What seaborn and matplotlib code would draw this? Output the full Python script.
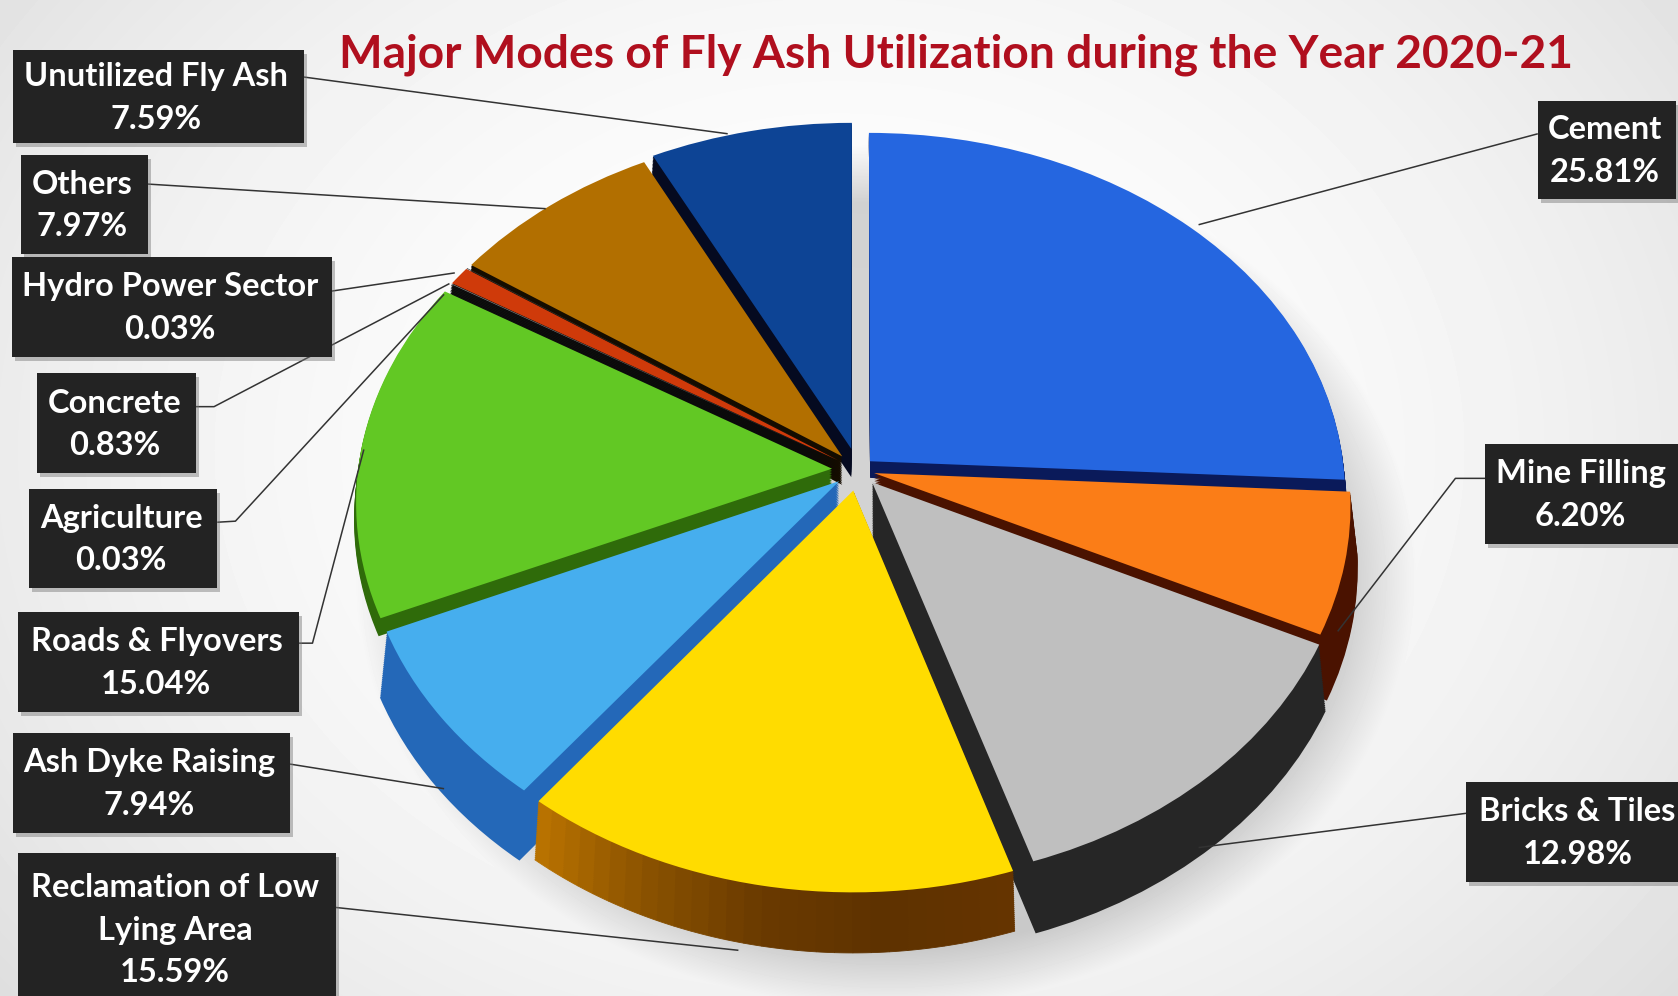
import numpy as np
import matplotlib
matplotlib.use("Agg")
import matplotlib.pyplot as plt
from matplotlib.patches import Rectangle, Wedge
from matplotlib.transforms import Transform
import seaborn as sns

# ---- data ----
categories = ["Cement", "Mine Filling", "Bricks & Tiles", "Reclamation of Low\nLying Area",
              "Ash Dyke Raising", "Roads & Flyovers", "Agriculture", "Concrete",
              "Hydro Power Sector", "Others", "Unutilized Fly Ash"]
shares = [25.81, 6.20, 12.98, 15.59, 7.94, 15.04, 0.03, 0.83, 0.03, 7.97, 7.59]
title = "Major Modes of Fly Ash Utilization during the Year 2020-21"

# ---- styles ----
top_colors = ["#2566e0", "#fb7d17", "#bfbfbf", "#ffdc00", "#46aeee", "#62c824",
              "#888888", "#cf3a0a", "#333333", "#b26f00", "#0d4495"]
side_colors = ["#0a1a5a", "#4a1200", "#262626", "#6a3800", "#2468b8", "#2f6b0a",
               "#111111", "#0a0a0a", "#111111", "#140c00", "#050a20"]
explode = [0.035, 0.035, 0.045, 0.057, 0.05, 0.055, 0.05, 0.05, 0.05, 0.05, 0.06]
draw_rank = [3, 4, 7, 9, 8, 6, 5, 5, 5, 2, 1]
depths = [0.05, 0.165, 0.165, 0.14, 0.165, 0.05, 0.05, 0.05, 0.05, 0.08, 0.08]

sns.set_theme(style="white")
plt.rcParams["font.family"] = ["Lato", "DejaVu Sans"]

W, H = 1678, 996
CX, CY, RX = 858, 470, 474
fig = plt.figure(figsize=(W / 100, H / 100), dpi=100)


class Perspective(Transform):
    """Narrows the far side of the pie and widens the near side."""
    input_dims = output_dims = 2
    is_separable = False
    has_inverse = False
    k = 0.09

    def transform_non_affine(self, values):
        v = np.array(values, dtype=float)
        v[:, 0] = v[:, 0] * (1 - self.k * v[:, 1])
        return v


# background with soft shadow
bg = fig.add_axes([0, 0, 1, 1], zorder=0)
yy, xx = np.mgrid[0:H, 0:W]
rad = np.hypot((xx - 839) / 1000, (yy - 450) / 800)
base = 1.0 - 0.11 * np.clip(rad, 0, 1.2) ** 2
sh = np.hypot((xx - 885) / 510, (yy - 575) / 415)
shadow = np.clip((1.04 - sh) / 0.14, 0, 1)
img = base - 0.17 * shadow
bg.imshow(img, cmap="gray", vmin=0, vmax=1, extent=(0, W, H, 0), aspect="auto", interpolation="bilinear")
bg.axis("off")

# pie with perspective on the vertical axis
ax = fig.add_axes([0, 0, 1, 1], zorder=1)
ax.patch.set_alpha(0)
A, B = 364.0, -34.0
def fwd(y):
    return A * np.asarray(y) + B * np.asarray(y) ** 2
def inv(u):
    return (A - np.sqrt(np.maximum(A ** 2 + 4 * B * np.asarray(u), 0))) / (-2 * B)

persp = Perspective() + ax.transData
LAYERS = 36
DEPTH = max(depths)
grad = sns.blend_palette(["#b87200", "#8a5200", "#6a3a00", "#5e3200", "#653400"][::-1], 28)
for k in range(LAYERS, 0, -1):
    d = DEPTH * k / LAYERS
    wedges, _ = ax.pie(shares, explode=explode, colors=side_colors, startangle=90,
                       counterclock=False, center=(0, -d), radius=1,
                       wedgeprops=dict(linewidth=0))
    for w, r, dep in zip(wedges, draw_rank, depths):
        w.set_zorder(r + 1)
        w.set_transform(persp)
        if d > dep:
            w.set_visible(False)
    y = wedges[3]
    y.set_visible(False)
    if d <= depths[3]:
        edges = np.linspace(y.theta1, y.theta2, len(grad) + 1)
        for i, c in enumerate(grad[::-1]):
            ax.add_patch(Wedge(y.center, y.r, edges[i], edges[i + 1], facecolor=c,
                               edgecolor=c, linewidth=0.6, zorder=draw_rank[3] + 1,
                               transform=persp))
wedges, _ = ax.pie(shares, explode=explode, colors=top_colors, startangle=90,
                   counterclock=False, center=(0, 0), radius=1, wedgeprops=dict(linewidth=0))
for w in wedges:
    w.set_zorder(20)
    w.set_transform(persp)

ax.set_aspect("auto")
ax.set_xlim((0 - CX) / RX, (W - CX) / RX)
ax.set_yscale("function", functions=(fwd, inv))
ax.set_ylim(inv(CY - H), inv(CY))
ax.set_xticks([])
ax.set_yticks([])
ax.set_frame_on(False)

# overlay in pixel units for callouts
ov = fig.add_axes([0, 0, 1, 1], zorder=2)
ov.set_xlim(0, W)
ov.set_ylim(H, 0)
ov.axis("off")
ov.patch.set_alpha(0)

S = 1678 / 1568
boxes = {
    "Unutilized Fly Ash": (12, 47, 284, 134),
    "Others": (20, 145, 138, 237),
    "Hydro Power Sector": (11, 240, 310, 334),
    "Concrete": (35, 349, 183, 442),
    "Agriculture": (27, 457, 203, 549),
    "Roads & Flyovers": (17, 572, 279, 665),
    "Ash Dyke Raising": (12, 685, 271, 778),
    "Reclamation of Low\nLying Area": (17, 797, 314, 940),
    "Cement": (1437, 94, 1566, 186),
    "Mine Filling": (1388, 415, 1570, 508),
    "Bricks & Tiles": (1370, 731, 1582, 824),
}
leaders = {
    "Unutilized Fly Ash": [(284, 72), (680, 125)],
    "Others": [(138, 172), (510, 195)],
    "Hydro Power Sector": [(310, 272), (425, 255)],
    "Concrete": [(183, 380), (200, 380), (420, 265)],
    "Agriculture": [(203, 488), (220, 487), (415, 275)],
    "Roads & Flyovers": [(279, 601), (292, 601), (340, 420)],
    "Ash Dyke Raising": [(271, 714), (415, 737)],
    "Reclamation of Low\nLying Area": [(314, 848), (690, 888)],
    "Cement": [(1437, 125), (1120, 210)],
    "Mine Filling": [(1388, 447), (1360, 447), (1250, 590)],
    "Bricks & Tiles": [(1370, 760), (1120, 792)],
}
for name in categories:
    pts = np.array(leaders[name]) * S
    ov.plot(pts[:, 0], pts[:, 1], color="#333333", lw=1.1, zorder=1, solid_capstyle="butt")
for name, pct in zip(categories, shares):
    x0, y0, x1, y1 = np.array(boxes[name]) * S
    ov.add_patch(Rectangle((x0 + 3, y0 + 4), x1 - x0, y1 - y0, fc="#777777", alpha=0.45, lw=0, zorder=2))
    ov.add_patch(Rectangle((x0, y0), x1 - x0, y1 - y0, fc="#232323", lw=0, zorder=3))
    ov.text((x0 + x1) / 2 - 2, (y0 + y1) / 2 + 1, f"{name}\n{pct:.2f}%", color="white", fontsize=23.5,
            fontweight="bold", ha="center", va="center", linespacing=1.56, zorder=4, clip_on=True)

ov.text(893 * S, 51 * S, title, color="#b00f1e", fontsize=33.2, fontweight="bold",
        ha="center", va="center", zorder=5)

fig.savefig("out.png", dpi=100)
